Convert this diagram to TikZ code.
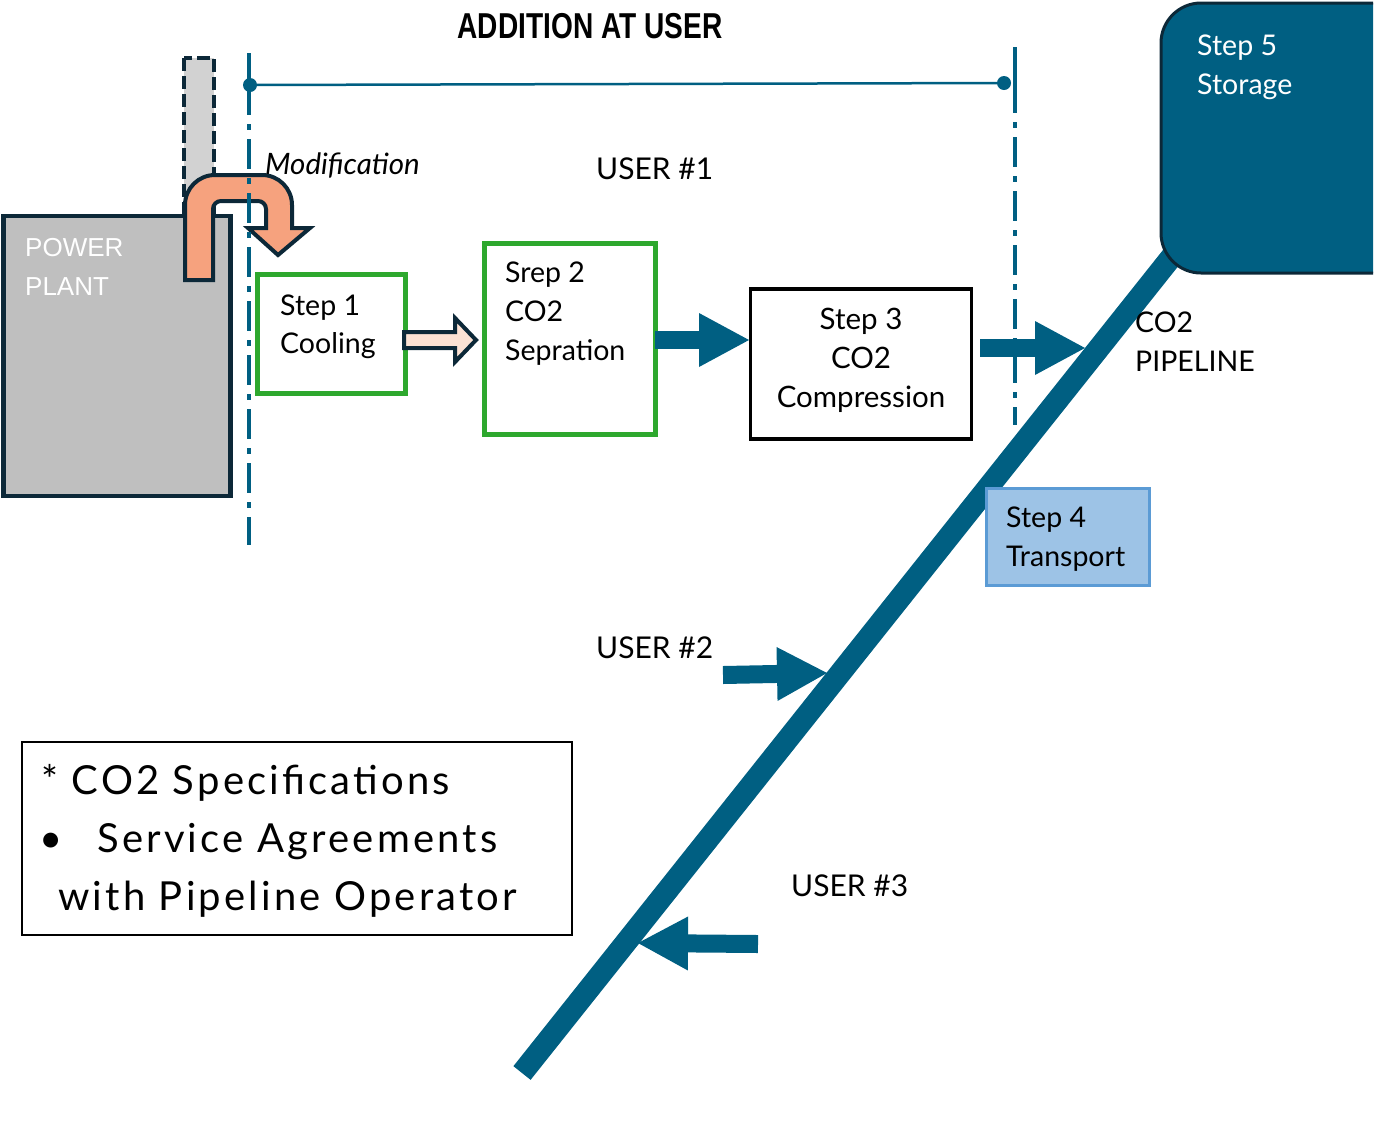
\documentclass[tikz,border=0pt]{standalone}
\usepackage{fontspec}
\setmainfont{Lato}
\newfontfamily\arialfont{Liberation Sans}
\usetikzlibrary{arrows.meta}

\definecolor{pipeteal}{RGB}{0,95,130}
\definecolor{navy}{RGB}{12,40,56}
\definecolor{plantgray}{RGB}{191,191,191}
\definecolor{stackgray}{RGB}{210,210,210}
\definecolor{boxgreen}{RGB}{46,168,46}
\definecolor{salmon}{RGB}{246,162,126}
\definecolor{peach}{RGB}{251,226,212}
\definecolor{skyfill}{RGB}{157,195,230}
\definecolor{skyedge}{RGB}{91,155,213}

\tikzset{
  lbl/.style={inner sep=0, anchor=base west, font=\fontsize{28.5}{34}\selectfont},
  clbl/.style={lbl, anchor=base, font=\fontsize{29.5}{34}\selectfont},
  wlbl/.style={lbl, text=white},
  plbl/.style={inner sep=0, anchor=base west, text=white, font=\arialfont\fontsize{26}{30}\selectfont},
  nlbl/.style={inner sep=0, anchor=base west, font=\fontsize{40}{46}\selectfont\addfontfeature{LetterSpace=8}},
  boxn/.style={inner sep=0, outer sep=0, anchor=north west, rectangle},
  greenbox/.style={boxn, draw=boxgreen, line width=5},
  dimline/.style={draw=pipeteal, line width=3.5, dash pattern=on 30 off 9 on 6 off 9},
  dimsolid/.style={draw=pipeteal, line width=3.5},
  tealarrow/.style={draw=pipeteal, line width=18, -{Triangle[width=54pt,length=50pt,line width=0pt]}},
}

\begin{document}
\begin{tikzpicture}[x=1pt,y=-1pt]
\useasboundingbox (0,0) rectangle (1376,1144);
\clip (0,0) rectangle (1376,1144);

% ---- power plant and its stack
\draw[fill=stackgray, draw=navy, line width=4, dash pattern=on 13 off 5] (184,58) rectangle (214,230);
\node[boxn, draw=navy, fill=plantgray, line width=4.5, minimum width=227, minimum height=280] (plant) at (3.5,216) {};
\node[plbl] (plant1) at (25,256) {POWER};
\node[plbl] (plant2) at (25,295) {PLANT};

% ---- flue gas diverted from the stack (U-turn arrow)
\draw[navy, fill=salmon, line width=4, line join=miter]
  (185,280) -- (185,205) arc (180:270:30) -- (262,175) arc (270:360:30)
  -- (292,228) -- (310,228) -- (278,255) -- (248,228) -- (266,228)
  -- (266,209) arc (0:-90:8) -- (221,201) arc (270:180:8) -- (213,280) -- cycle;
\node[lbl, font=\fontsize{29.5}{34}\selectfont\itshape] (modif) at (265,174) {Modification};

% ---- extent of the additions at the user
\coordinate (dl) at (250,85);
\coordinate (dr) at (1004,83);
\draw[dimsolid] (249,53) -- (249,85);
\draw[dimline] (249,85) -- (249,545);
\draw[dimsolid] (1015,47) -- (1015,83);
\draw[dimline] (1015,83) -- (1015,425);
\draw[pipeteal, line width=2.5] (dl) -- (dr);
\fill[pipeteal] (dl) circle (7);
\fill[pipeteal] (dr) circle (7);
\node[inner sep=0, anchor=base, font=\arialfont\bfseries\fontsize{36}{40}\selectfont] (title) at (590,38) {\scalebox{0.78}[1]{ADDITION AT USER}};
\node[lbl, font=\fontsize{30}{34}\selectfont] (user1) at (596,179) {USER \#1};

% ---- pipeline and storage
\coordinate (pbot) at (522,1073);
\coordinate (ptop) at (1185,240);
\draw[pipeteal, line width=22] (pbot) -- (ptop);
\begin{scope}
  \clip (1100,0) rectangle (1373,300);
  \draw[fill=pipeteal, draw=navy, line width=3, rounded corners=40]
    (1420,3) -- (1161,3) -- (1161,273) -- (1420,273);
\end{scope}
\node[wlbl] (s5a) at (1197,55) {Step 5};
\node[wlbl] (s5b) at (1197,94) {Storage};
\node[lbl] (pl1) at (1135,332) {CO2};
\node[lbl] (pl2) at (1135,371) {PIPELINE};

% ---- process steps
\node[greenbox, minimum width=148, minimum height=119] (s1) at (257.5,274.5) {};
\node[lbl] (s1a) at (280,315) {Step 1};
\node[lbl] (s1b) at (280,353) {Cooling};

\node[greenbox, minimum width=171, minimum height=191] (s2) at (484.5,243.5) {};
\node[lbl] (s2a) at (505,282) {Srep 2};
\node[lbl] (s2b) at (505,321) {CO2};
\node[lbl] (s2c) at (505,360) {Sepration};

\node[boxn, draw=black, line width=3.5, minimum width=221, minimum height=150] (s3) at (750.5,289) {};
\node[clbl] (s3a) at (861,329) {Step 3};
\node[clbl] (s3b) at (861,368) {CO2};
\node[clbl] (s3c) at (861,407) {Compression};

\node[boxn, draw=skyedge, fill=skyfill, line width=3, minimum width=163, minimum height=97] (s4) at (986,488) {};
\node[lbl] (s4a) at (1006,527) {Step 4};
\node[lbl] (s4b) at (1006,566) {Transport};

% ---- flow arrows
\draw[navy, fill=peach, line width=4, line join=miter]
  (404,332) -- (455,332) -- (455,318) -- (476,340) -- (455,362) -- (455,348) -- (404,348) -- cycle;
\coordinate (s2out) at (655,340);
\coordinate (s3in) at (749,340);
\draw[tealarrow] (s2out) -- (s3in);
\coordinate (s3out) at (980,348);
\coordinate (pin1) at (1085,348);
\draw[tealarrow] (s3out) -- (pin1);

\node[lbl, font=\fontsize{30}{34}\selectfont] (user2) at (596,658) {USER \#2};
\coordinate (u2out) at (723,675);
\coordinate (pin2) at (827,673);
\draw[tealarrow] (u2out) -- (pin2);

\node[lbl, font=\fontsize{30}{34}\selectfont] (user3) at (791,896) {USER \#3};
\coordinate (u3out) at (758,944);
\coordinate (pin3) at (638,943);
\draw[tealarrow] (u3out) -- (pin3);

% ---- notes
\node[boxn, draw=black, line width=2, minimum width=550, minimum height=193] (notes) at (21.5,741.5) {};
\node[nlbl] (n1) at (41,794) {* CO2 Specifications};
\node[nlbl] (n2) at (39,852) {•};
\node[nlbl] (n3) at (97,852) {Service Agreements};
\node[nlbl] (n4) at (58,910) {with Pipeline Operator};
\end{tikzpicture}
\end{document}
